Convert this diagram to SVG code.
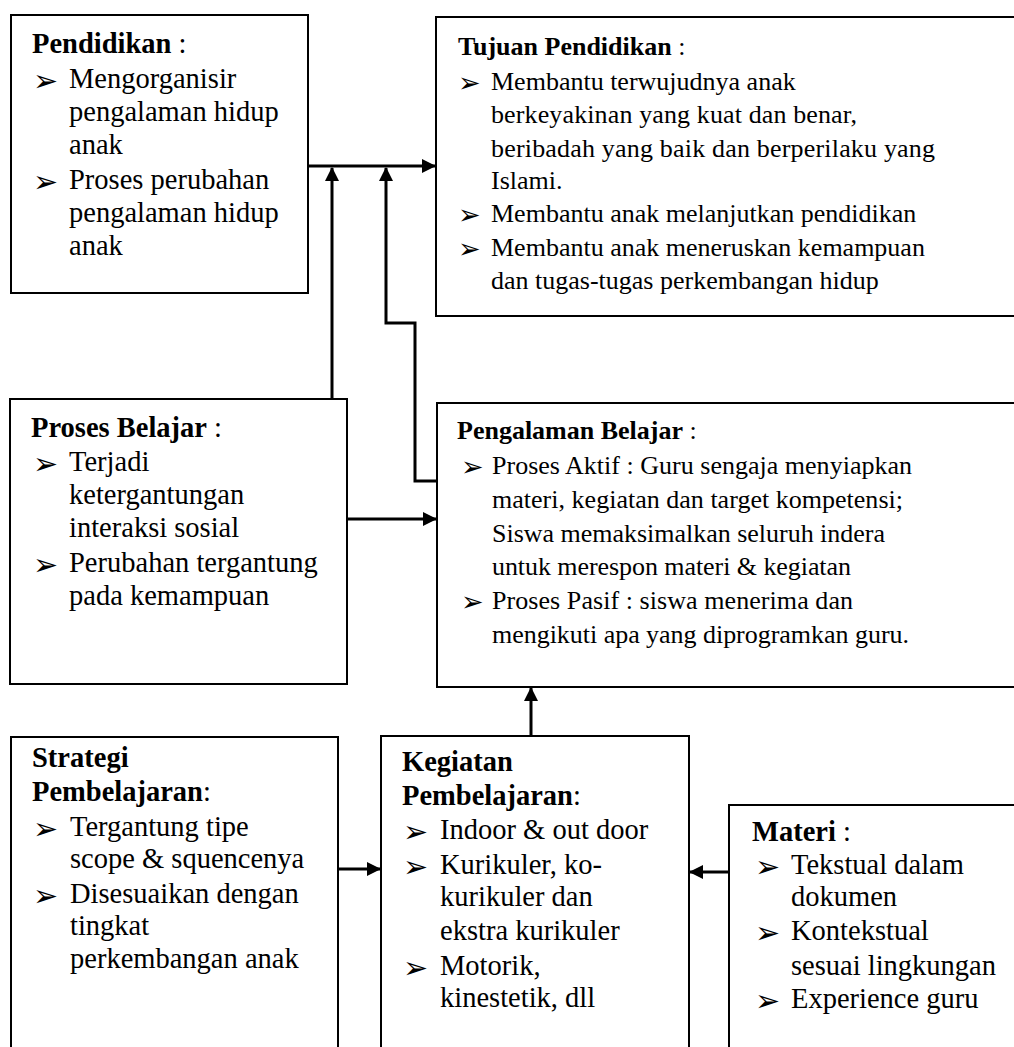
<svg xmlns="http://www.w3.org/2000/svg" width="1014" height="1047" viewBox="0 0 1014 1047">
<style>
.box{fill:#fff;stroke:#000;stroke-width:2}
.t{font-family:"Liberation Serif","Times New Roman",serif;font-size:26px;fill:#000}
.L{font-size:28.5px}
.b{font-weight:bold}
.bl{font-family:"DejaVu Sans",sans-serif;font-size:27px;fill:#000}
.bL{font-size:30px}
.c{fill:none;stroke:#000;stroke-width:3}
</style>
<defs>
<marker id="ah" markerWidth="14" markerHeight="14" refX="13" refY="7" orient="auto" markerUnits="userSpaceOnUse">
<path d="M0,0 L14,7 L0,14 Z" fill="#000"/>
</marker>
</defs>
<rect width="1014" height="1047" fill="#fff"/>

<g id="connectors">
<path class="c" d="M308,166 L435,166" marker-end="url(#ah)"/>
<path class="c" d="M332,398 L332,168" marker-end="url(#ah)"/>
<path class="c" d="M437,481 L415,481 L415,323 L386,323 L386,168" marker-end="url(#ah)"/>
<path class="c" d="M347,519 L436,519" marker-end="url(#ah)"/>
<path class="c" d="M531,736 L531,688" marker-end="url(#ah)"/>
<path class="c" d="M338,869 L380,869" marker-end="url(#ah)"/>
<path class="c" d="M729,872 L690,872" marker-end="url(#ah)"/>
</g>

<g id="pendidikan">
<rect class="box" x="11" y="15" width="297" height="278"/>
<text class="t L" x="32" y="53"><tspan class="b">Pendidikan</tspan> :</text>
<text class="bl bL" x="33" y="91">➢</text>
<text class="t L" x="69" y="88">Mengorganisir</text>
<text class="t L" x="69" y="121">pengalaman  hidup</text>
<text class="t L" x="69" y="154">anak</text>
<text class="bl bL" x="33" y="192">➢</text>
<text class="t L" x="69" y="189">Proses perubahan</text>
<text class="t L" x="69" y="222">pengalaman  hidup</text>
<text class="t L" x="69" y="255">anak</text>
</g>

<g id="tujuan">
<rect class="box" x="436" y="17" width="590" height="299"/>
<text class="t" x="458" y="55"><tspan class="b">Tujuan Pendidikan</tspan> :</text>
<text class="bl" x="458" y="92">➢</text>
<text class="t" x="491" y="90">Membantu terwujudnya anak</text>
<text class="t" x="491" y="123" textLength="366" lengthAdjust="spacing">berkeyakinan yang kuat dan benar,</text>
<text class="t" x="491" y="157" textLength="444" lengthAdjust="spacing">beribadah yang  baik dan berperilaku yang</text>
<text class="t" x="491" y="189">Islami.</text>
<text class="bl" x="458" y="224">➢</text>
<text class="t" x="491" y="222">Membantu anak melanjutkan pendidikan</text>
<text class="bl" x="458" y="258">➢</text>
<text class="t" x="491" y="256">Membantu anak meneruskan kemampuan</text>
<text class="t" x="491" y="289">dan tugas-tugas  perkembangan  hidup</text>
</g>

<g id="proses-belajar">
<rect class="box" x="10" y="399" width="337" height="285"/>
<text class="t L" x="31" y="437"><tspan class="b">Proses Belajar</tspan> :</text>
<text class="bl bL" x="33" y="474">➢</text>
<text class="t L" x="69" y="471">Terjadi</text>
<text class="t L" x="69" y="504">ketergantungan</text>
<text class="t L" x="69" y="537">interaksi  sosial</text>
<text class="bl bL" x="33" y="575">➢</text>
<text class="t L" x="69" y="572">Perubahan tergantung</text>
<text class="t L" x="69" y="605">pada kemampuan</text>
</g>

<g id="pengalaman-belajar">
<rect class="box" x="437" y="403" width="590" height="284"/>
<text class="t" x="457" y="439"><tspan class="b">Pengalaman Belajar</tspan> :</text>
<text class="bl" x="461" y="476">➢</text>
<text class="t" x="492" y="474" textLength="420" lengthAdjust="spacing">Proses Aktif : Guru sengaja menyiapkan</text>
<text class="t" x="492" y="508" textLength="411" lengthAdjust="spacing">materi, kegiatan dan target kompetensi;</text>
<text class="t" x="492" y="542" textLength="393" lengthAdjust="spacing">Siswa memaksimalkan seluruh indera</text>
<text class="t" x="492" y="575" textLength="359" lengthAdjust="spacing">untuk merespon materi &amp; kegiatan</text>
<text class="bl" x="461" y="611">➢</text>
<text class="t" x="492" y="609" textLength="361" lengthAdjust="spacing">Proses Pasif : siswa menerima dan</text>
<text class="t" x="492" y="643" textLength="417" lengthAdjust="spacing">mengikuti apa yang diprogramkan guru.</text>
</g>

<g id="strategi">
<rect class="box" x="11" y="737" width="327" height="330"/>
<text class="t L b" x="32" y="767">Strategi</text>
<text class="t L" x="32" y="801"><tspan class="b">Pembelajaran</tspan>:</text>
<text class="bl bL" x="33" y="839">➢</text>
<text class="t L" x="70" y="836">Tergantung tipe</text>
<text class="t L" x="70" y="868">scope &amp; squencenya</text>
<text class="bl bL" x="33" y="906">➢</text>
<text class="t L" x="70" y="903">Disesuaikan  dengan</text>
<text class="t L" x="70" y="935">tingkat</text>
<text class="t L" x="70" y="968">perkembangan  anak</text>
</g>

<g id="kegiatan">
<rect class="box" x="381" y="736" width="308" height="330"/>
<text class="t L b" x="402" y="771">Kegiatan</text>
<text class="t L" x="402" y="805"><tspan class="b">Pembelajaran</tspan>:</text>
<text class="bl bL" x="403" y="842">➢</text>
<text class="t L" x="440" y="839">Indoor &amp; out door</text>
<text class="bl bL" x="403" y="877">➢</text>
<text class="t L" x="440" y="874">Kurikuler,  ko-</text>
<text class="t L" x="440" y="906">kurikuler  dan</text>
<text class="t L" x="440" y="940">ekstra kurikuler</text>
<text class="bl bL" x="403" y="978">➢</text>
<text class="t L" x="440" y="975">Motorik,</text>
<text class="t L" x="440" y="1007">kinestetik,  dll</text>
</g>

<g id="materi">
<rect class="box" x="729" y="805" width="300" height="260"/>
<text class="t L" x="752" y="841"><tspan class="b">Materi</tspan> :</text>
<text class="bl bL" x="755" y="877">➢</text>
<text class="t L" x="791" y="874">Tekstual dalam</text>
<text class="t L" x="791" y="906">dokumen</text>
<text class="bl bL" x="755" y="943">➢</text>
<text class="t L" x="791" y="940">Kontekstual</text>
<text class="t L" x="791" y="975">sesuai lingkungan</text>
<text class="bl bL" x="755" y="1011">➢</text>
<text class="t L" x="791" y="1008">Experience  guru</text>
</g>
</svg>
